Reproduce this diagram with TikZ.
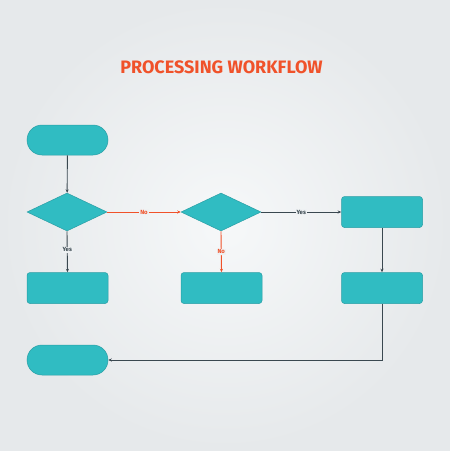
\documentclass[tikz,border=0pt]{standalone}
\usepackage{fontspec}
\setmainfont{Fira Sans}
\usetikzlibrary{shapes.geometric,arrows.meta}
\definecolor{teal}{HTML}{30BCC2}
\definecolor{tealedge}{HTML}{2A9EA5}
\definecolor{wire}{HTML}{3A4850}
\definecolor{flame}{HTML}{F0522A}
\definecolor{paper}{HTML}{EEF1F3}
\definecolor{papercentre}{HTML}{F6F8F9}
\definecolor{paperedge}{HTML}{E6E9EB}
\tikzset{
  terminal/.style={draw=tealedge, fill=teal, line width=0.5pt, rectangle,
    rounded corners=15pt, minimum width=81pt, minimum height=30pt, inner sep=0pt},
  decision/.style={draw=tealedge, fill=teal, line width=0.5pt, diamond,
    minimum width=80pt, minimum height=38pt, inner sep=0pt},
  process/.style={draw=tealedge, fill=teal, line width=0.5pt, rectangle,
    rounded corners=3pt, minimum width=81pt, minimum height=31pt, inner sep=0pt},
  wireline/.style={draw=wire, line width=0.9pt, -{Stealth[length=3.5pt,width=3pt]}},
  noline/.style={draw=flame, line width=0.9pt, -{Stealth[length=3.5pt,width=3pt]}},
  answer/.style={font=\bfseries\fontsize{6}{7}\selectfont, fill=paper, inner sep=1pt}
}
\begin{document}
\begin{tikzpicture}[x=1pt,y=-1pt]
    \useasboundingbox (0,0) rectangle (450,469);
    % background
    \fill[white] (0,0) rectangle (450,469);
    \shade[inner color=papercentre, outer color=paperedge] (0,0) rectangle (450,450);

    \node[font=\bfseries\fontsize{18}{19}\selectfont, text=flame] (title) at (221.5,67) {PROCESSING WORKFLOW};

    \node[terminal] (start) at (67.5,140) {};
    \node[decision] (dec1) at (67,212) {};
    \node[decision] (dec2) at (221,212) {};
    \node[process] (proc3) at (382,212) {};
    \node[process] (proc1) at (67.5,288) {};
    \node[process] (proc2) at (221.5,288) {};
    \node[process] (proc4) at (382,288) {};
    \node[terminal] (stop) at (67.5,360) {};

    \draw[wireline] (start) -- (dec1);
    \draw[noline] (dec1.east) -- node[answer, text=flame] {No} (dec2.west);
    \draw[wireline] (dec2.east) -- node[answer, text=wire] {Yes} (proc3.west);
    \draw[wireline] (dec1.south) -- node[answer, text=wire, pos=0.45] {Yes} (proc1.north);
    \draw[noline] (dec2.south) -- node[answer, text=flame, pos=0.5] {No} (proc2.north);
    \draw[wireline] (proc3) -- (proc4);
    \draw[wireline] (proc4.south) |- (stop.east);
\end{tikzpicture}
\end{document}
